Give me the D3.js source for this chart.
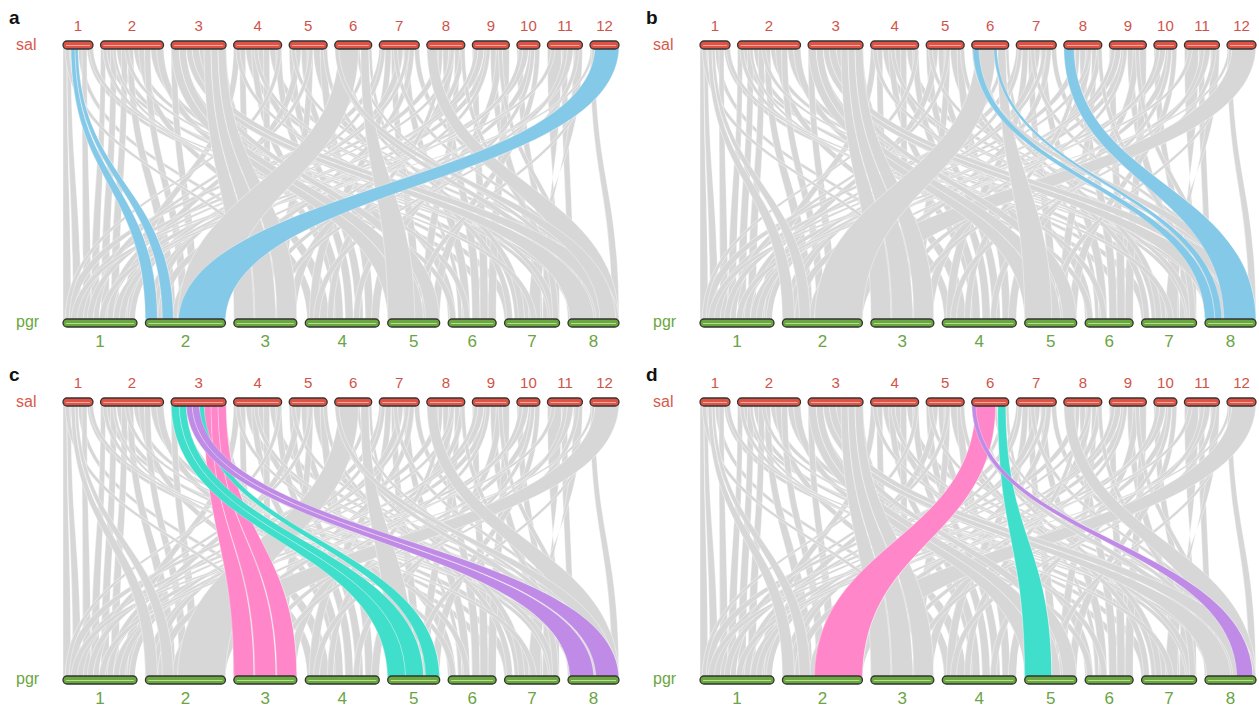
<!DOCTYPE html>
<html>
<head>
<meta charset="utf-8">
<script src="https://cdn.jsdelivr.net/npm/d3@7"></script>
<style>
body { margin: 0; background: #fff; }
text { font-family: "Liberation Sans", Arial, sans-serif; }
</style>
</head>
<body>
<svg id="chart" width="1259" height="709"></svg>
<script>
// chromosome names and lengths (Mb)
const salNames = ["1","2","3","4","5","6","7","8","9","10","11","12"];
const salLengths = [30,63,55,48,38,37,40,38,37,23,35,29];
const pgrNames = ["1","2","3","4","5","6","7","8"];
const pgrLengths = [74,80,63,74,52,48,55,51];

// syntenic blocks: [salChr, salStart, salEnd, pgrChr, pgrStart, pgrEnd]
const grayLinks = [
  [1,0,4,1,0,8],[1,4,8,1,10,18],[1,15,19,4,2,10],[1,19,24,1,20,28],[1,24,30,6,40,48],
  [2,0,5,1,28,36],[2,5,10,8,2,8],[2,10,16,1,38,46],[2,16,21,7,0,8],[2,21,27,1,48,56],
  [2,27,33,2,20,30],[2,33,38,8,10,18],[2,38,44,4,14,24],[2,44,50,2,34,42],[2,50,56,7,20,30],[2,56,63,5,4,12],
  [3,0,6,2,44,52],[3,48,55,4,28,36],
  [4,0,6,1,60,68],[4,6,12,3,14,22],[4,12,18,8,20,28],[4,18,24,4,30,38],
  [4,24,30,6,0,8],[4,30,36,3,30,38],[4,36,42,8,28,36],[4,42,48,4,40,48],
  [5,0,6,4,50,58],[5,6,12,1,64,72],[5,12,18,5,14,22],[5,18,24,3,44,52],[5,24,31,7,10,18],[5,31,38,4,60,68],
  [6,34,37,6,10,14],
  [7,0,6,1,2,10],[7,6,12,4,4,12],[7,12,18,5,24,32],[7,18,24,2,0,8],
  [7,24,30,6,14,22],[7,30,35,3,2,10],[7,35,40,8,38,44],
  [8,10,16,1,12,20],[8,16,22,6,24,32],[8,22,28,3,54,62],[8,28,33,5,34,42],[8,33,38,2,70,78],
  [9,0,6,6,32,40],[9,6,12,1,40,48],[9,12,18,2,10,18],[9,18,24,7,30,38],[9,24,30,4,66,74],[9,30,37,6,40,48],
  [10,0,6,7,40,46],[10,6,12,1,50,58],[10,12,18,3,22,28],[10,18,23,5,44,52],
  [11,0,14,7,55,38],[11,14,20,8,0,6],[11,20,26,2,60,68],[11,26,35,7,36,24],
  [12,0,5,8,44,51],
  // thinner long-range blocks
  [2,2,6,6,2,8],[2,12,15,5,44,50],[2,24,28,8,4,10],[3,10,14,6,16,22],[3,20,25,7,44,50],
  [4,2,6,7,46,52],[4,20,24,8,14,20],[4,44,48,1,2,6],[5,2,6,8,36,42],[5,20,24,1,30,36],
  [5,34,38,7,2,8],[6,30,34,1,44,50],[6,8,12,7,14,20],[7,2,6,2,6,12],[7,14,18,8,24,30],
  [7,26,30,1,66,72],[8,12,16,4,22,28],[8,24,28,1,24,30],[8,34,38,7,48,54],[9,2,6,1,56,62],
  [9,14,18,3,8,14],[9,26,30,8,6,12],[10,2,6,2,26,32],[10,14,18,4,48,54],[11,4,8,1,8,14],
  [11,16,20,3,40,46],[11,28,32,4,8,14],[12,1,4,1,36,42],[12,2,5,5,26,32],[1,26,30,7,26,32],
  [1,2,6,3,50,56]
];

// highlighted blocks per panel
const aBlue = [[1,8,12,2,0,12],[1,12,15,2,17,28],[12,5,29,2,33,80]];
const bBlue = [[6,1,7,8,0,10],[6,22,25,8,10,17],[8,0,10,8,19,51]];
const cTeal = [[3,0,8,5,0,18],[3,8,15,5,18,36],[3,28,33,5,38,52]];
const cPurple = [[3,15,21,8,2,26],[3,21,28,8,28,51]];
const cPink = [[3,33,40,3,0,20],[3,40,47,3,21,42],[3,47,55,3,43,63]];
const dPink = [[6,4,24,2,32,80]];
const dTeal = [[6,26,34,5,0,27]];
const dPurple = [[6,0,4,8,32,48]];

const allHighlights = [].concat(aBlue, bBlue, cTeal, cPurple, cPink, dPink, dTeal, dPurple);

const colors = { gray: "#d7d7d7", blue: "#85c9e8", teal: "#3fdfcc", purple: "#c08be6", pink: "#ff86c9" };

const panels = [
  { letter: "a", dx: 0, dy: 0, groups: [[aBlue, colors.blue]] },
  { letter: "b", dx: 637, dy: 0, groups: [[bBlue, colors.blue]] },
  { letter: "c", dx: 0, dy: 357, groups: [[cPink, colors.pink], [cTeal, colors.teal], [cPurple, colors.purple]] },
  { letter: "d", dx: 637, dy: 357, groups: [[dPink, colors.pink], [dTeal, colors.teal], [dPurple, colors.purple]] }
];

const x0 = 63, x1 = 619;
const yTop = 45, yBot = 323, barH = 8;

// one linear scale per track, chromosomes laid end to end with gaps
function makeTrack(lengths, gapPx) {
  const total = d3.sum(lengths);
  const scale = d3.scaleLinear().domain([0, total]).range([x0, x1 - gapPx * (lengths.length - 1)]);
  const starts = [];
  let acc = 0;
  lengths.forEach((l, i) => { starts.push({ off: acc, gap: i * gapPx }); acc += l; });
  const pos = (chr, v) => scale(starts[chr - 1].off + v) + starts[chr - 1].gap;
  return { pos, lengths };
}
const sal = makeTrack(salLengths, 7.55);
const pgr = makeTrack(pgrLengths, 8.43);

function ribbon(l) {
  const a = sal.pos(l[0], l[1]), b = sal.pos(l[0], l[2]);
  const c = pgr.pos(l[3], l[4]), d = pgr.pos(l[3], l[5]);
  const ym = (yTop + yBot) / 2;
  const p = d3.path();
  p.moveTo(a, yTop);
  p.bezierCurveTo(a, ym, c, ym, c, yBot);
  p.lineTo(d, yBot);
  p.bezierCurveTo(d, ym, b, ym, b, yTop);
  p.closePath();
  return p.toString();
}

const svg = d3.select("#chart");

panels.forEach(pn => {
  const g = svg.append("g").attr("transform", `translate(${pn.dx},${pn.dy})`);

  g.append("text").attr("x", 9).attr("y", 24)
    .style("font-size", "19px").style("font-weight", "bold").attr("fill", "#111")
    .text(pn.letter);

  // gray background links
  g.append("g").selectAll("path")
    .data(grayLinks.concat(allHighlights))
    .enter().append("path")
    .attr("d", ribbon)
    .attr("fill", colors.gray)
    .attr("stroke", "#fff")
    .attr("stroke-width", 0.4);

  // highlighted links
  pn.groups.forEach(([links, col]) => {
    g.append("g").selectAll("path")
      .data(links)
      .enter().append("path")
      .attr("d", ribbon)
      .attr("fill", col)
      .attr("stroke", "#fff")
      .attr("stroke-width", 0.4)
      .attr("stroke-opacity", 0.7);
  });

  // chromosome bars
  const drawTrack = (track, names, y, fill, line, labelY, labelSize, labelCol) => {
    const bars = g.append("g").selectAll("g")
      .data(names)
      .enter().append("g");
    bars.append("rect")
      .attr("x", (d, i) => track.pos(i + 1, 0))
      .attr("y", y - barH / 2)
      .attr("width", (d, i) => track.pos(i + 1, track.lengths[i]) - track.pos(i + 1, 0))
      .attr("height", barH)
      .attr("rx", 4)
      .attr("fill", fill)
      .attr("stroke", "#333")
      .attr("stroke-width", 1.3);
    bars.append("line")
      .attr("x1", (d, i) => track.pos(i + 1, 0) + 3)
      .attr("x2", (d, i) => track.pos(i + 1, track.lengths[i]) - 3)
      .attr("y1", y + 0.5).attr("y2", y + 0.5)
      .attr("stroke", line).attr("stroke-width", 1);
    bars.append("text")
      .attr("x", (d, i) => (track.pos(i + 1, 0) + track.pos(i + 1, track.lengths[i])) / 2)
      .attr("y", labelY)
      .attr("text-anchor", "middle")
      .style("font-size", labelSize)
      .attr("fill", labelCol)
      .text(d => d);
  };
  drawTrack(sal, salNames, yTop, "#dd5446", "#f4a8a0", 31, "15px", "#d0534a");
  drawTrack(pgr, pgrNames, yBot, "#6aa83e", "#b5dc98", 347, "17px", "#6aa444");

  g.append("text").attr("x", 16).attr("y", 50)
    .style("font-size", "16px").attr("fill", "#d65a4e").text("sal");
  g.append("text").attr("x", 16).attr("y", 327)
    .style("font-size", "16px").attr("fill", "#6aa641").text("pgr");
});
</script>
</body>
</html>
